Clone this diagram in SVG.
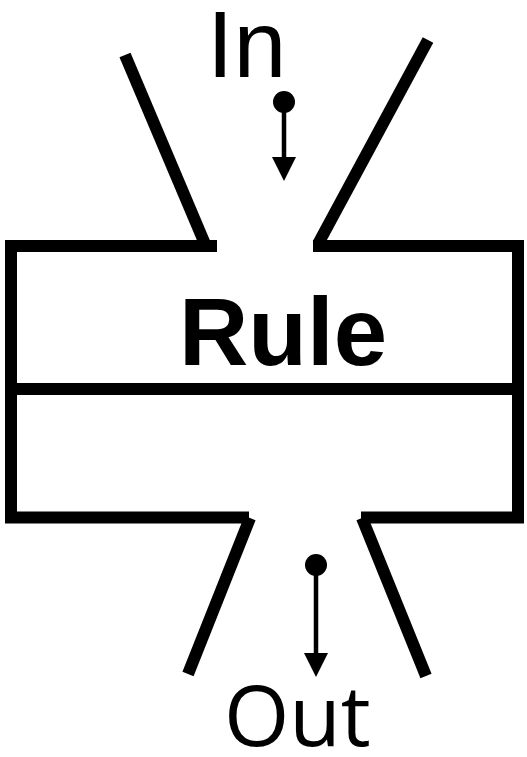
<svg xmlns="http://www.w3.org/2000/svg" width="527" height="757" viewBox="0 0 527 757">
<style>
.w{fill:none;stroke:#000;stroke-width:12;stroke-linecap:butt;stroke-linejoin:miter}
.c{stroke:#000;stroke-width:4.5;fill:none}
.h{fill:#000}
</style>
<rect width="527" height="757" fill="#fff"/>
<g id="rule">
<path class="w" d="M217,246 H11 V517.5 H249"/>
<path class="w" d="M313,246 H518 V517.5 H361"/>
<line class="w" x1="11" y1="389" x2="518" y2="389"/>
<text x="283" y="365" font-family="Liberation Sans, Arial, sans-serif" font-weight="bold" font-size="96" text-anchor="middle">Rule</text>
</g>
<g id="inlet">
<line class="w" x1="125" y1="55" x2="205" y2="244"/>
<line class="w" x1="428" y1="40" x2="318" y2="244"/>
<text x="207" y="77" font-family="Liberation Sans, Arial, sans-serif" font-size="95">In</text>
</g>
<g id="outlet">
<line class="w" x1="250" y1="518" x2="188" y2="674"/>
<line class="w" x1="362" y1="518" x2="426" y2="676"/>
<text x="224" y="746" font-family="Open Sans, sans-serif" font-size="84">Out</text>
</g>
<g id="connectors">
<circle class="h" cx="284" cy="102" r="11"/>
<line class="c" x1="284" y1="102" x2="284" y2="160"/>
<polygon class="h" points="272,157 296,157 284,181"/>
<circle class="h" cx="316" cy="565" r="11"/>
<line class="c" x1="316" y1="565" x2="316" y2="656"/>
<polygon class="h" points="304,653 328,653 316,677"/>
</g>
</svg>
